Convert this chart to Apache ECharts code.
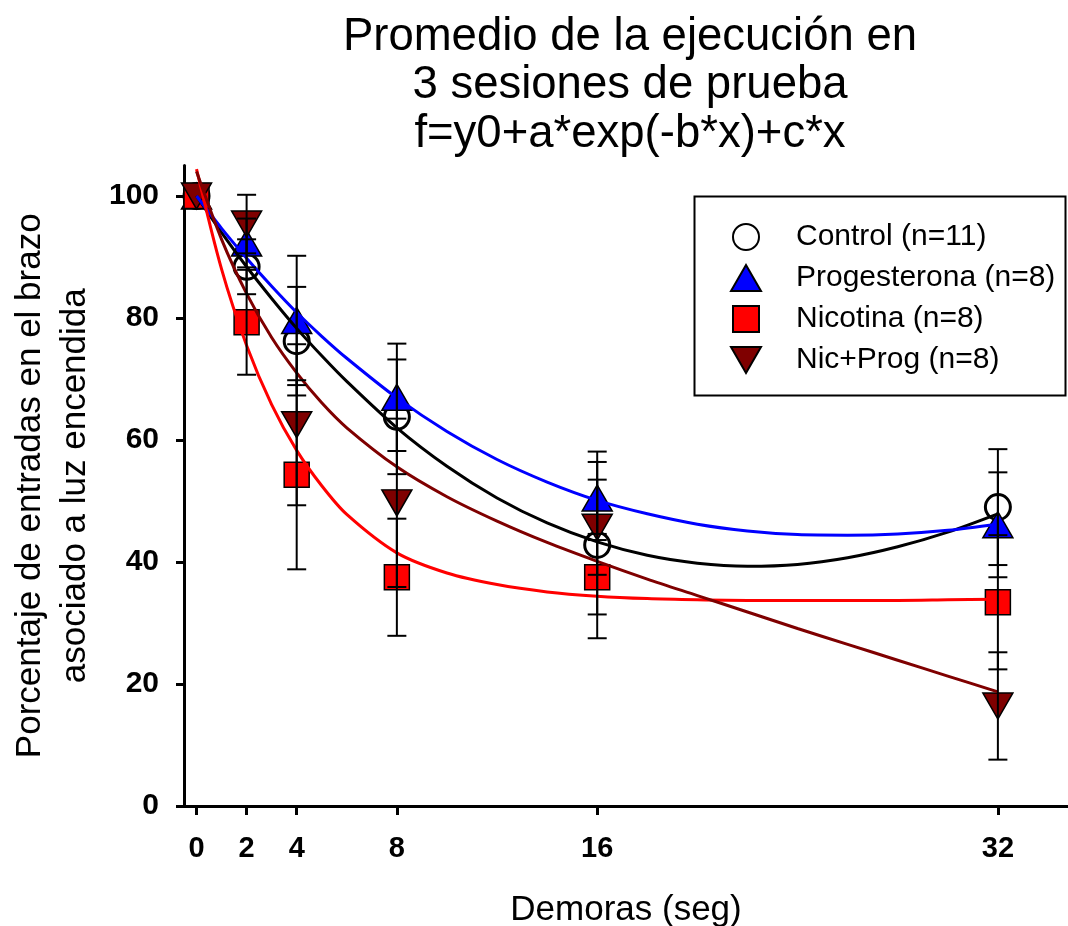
<!DOCTYPE html>
<html>
<head>
<meta charset="utf-8">
<script src="https://cdn.jsdelivr.net/npm/echarts@6/dist/echarts.min.js"></script>
<style>
html,body{margin:0;padding:0;background:#fff;}
#chart{width:1068px;height:926px;}
</style>
</head>
<body>
<div id="chart"></div>
<script>
// ---- data ----
const delays = [0, 2, 4, 8, 16, 32];
const xTicks = [0, 2, 4, 8, 16, 32];
const yTicks = [0, 20, 40, 60, 80, 100];

const seriesNames = ['Control (n=11)', 'Progesterona (n=8)', 'Nicotina (n=8)', 'Nic+Prog (n=8)'];

const controlMean = [100, 88.4, 76.2, 63.8, 42.8, 49.0];
const controlErr  = [0, 4.5, 8.9, 9.4, 15.3, 9.5];
const progMean    = [100, 92.3, 79.6, 67.0, 50.5, 46.1];
const progErr     = [0, 4.0, 10.6, 8.8, 5.9, 8.6];
const nicMean     = [100, 79.3, 54.3, 37.5, 37.5, 33.4];
const nicErr      = [0, 8.6, 15.5, 9.6, 6.1, 11.0];
const npMean      = [100, 95.4, 62.5, 49.7, 45.7, 16.4];
const npErr       = [0, 4.8, 13.2, 13.8, 7.8, 8.8];

// fitted curves f=y0+a*exp(-b*x)+c*x
const curveX     = [0, 1, 2, 3, 4, 5, 6, 8, 10, 12, 14, 16, 18, 20, 22, 24, 26, 28, 30, 32];
const controlFit = [100, 94.0, 88.4, 83.2, 78.3, 73.8, 69.6, 62.0, 55.7, 50.5, 46.4, 43.3, 41.1, 39.8, 39.3, 39.6, 40.7, 42.5, 44.9, 47.9];
const progFit    = [100, 94.7, 89.8, 85.2, 80.9, 77.0, 73.4, 66.9, 61.4, 56.8, 53.1, 50.1, 47.9, 46.2, 45.1, 44.5, 44.4, 44.6, 45.2, 46.2];
const nicFit     = [104.4, 88.0, 75.5, 65.8, 58.3, 52.5, 47.8, 41.5, 38.2, 36.3, 35.1, 34.4, 34.0, 33.8, 33.7, 33.7, 33.7, 33.7, 33.8, 33.9];
const npFit      = [104.0, 92.9, 84.0, 76.8, 71.0, 66.1, 62.0, 55.6, 50.7, 46.7, 43.2, 40.1, 37.2, 34.5, 31.8, 29.1, 26.5, 23.9, 21.3, 18.7];

// ---- styling ----
const FONT = 'Liberation Sans, Arial, Helvetica, sans-serif';
const colors = ['#000000', '#0000ff', '#ff0000', '#7f0000'];
const fills  = ['rgba(255,255,255,0)', '#0000ff', '#ff0000', '#7f0000'];
const symbols = ['circle', 'path://M5,0L10,8.66L0,8.66Z', 'path://M0,0H10V10H0Z', 'path://M0,0L10,0L5,8.66Z'];
const symbolSizes = [25, [30, 26], 25, [30, 26]];
const means = [controlMean, progMean, nicMean, npMean];
const errs = [controlErr, progErr, nicErr, npErr];
const fits = [controlFit, progFit, nicFit, npFit];

function zip(xs, ys) { return xs.map((x, i) => [x, ys[i]]); }

const series = [];
// curves
fits.forEach((f, i) => {
  series.push({
    name: 'fit' + i,
    type: 'line',
    data: zip(curveX, f),
    smooth: 0.3,
    showSymbol: false,
    symbol: 'none',
    lineStyle: { color: colors[i], width: 3 },
    z: 3,
    silent: true
  });
});
// markers
means.forEach((m, i) => {
  series.push({
    name: seriesNames[i],
    type: 'scatter',
    data: zip(delays, m),
    symbol: symbols[i],
    symbolSize: symbolSizes[i],
    symbolKeepAspect: false,
    itemStyle: {
      color: fills[i],
      opacity: 1,
      borderColor: '#000',
      borderWidth: i === 0 ? 3 : 1.5
    },
    z: 2
  });
});
// error bars
means.forEach((m, i) => {
  series.push({
    name: 'err' + i,
    type: 'custom',
    data: delays.map((x, k) => [x, m[k], errs[i][k]]),
    encode: { x: 0, y: 1 },
    z: 4,
    silent: true,
    renderItem: function (params, api) {
      const x = api.value(0), y = api.value(1), e = api.value(2);
      if (!e) return null;
      const t = api.coord([x, y + e]);
      const b = api.coord([x, y - e]);
      const hw = 9.5;
      const st = { stroke: '#000', lineWidth: 2 };
      return {
        type: 'group',
        children: [
          { type: 'line', shape: { x1: t[0], y1: t[1], x2: b[0], y2: b[1] }, style: st },
          { type: 'line', shape: { x1: t[0] - hw, y1: t[1], x2: t[0] + hw, y2: t[1] }, style: st },
          { type: 'line', shape: { x1: b[0] - hw, y1: b[1], x2: b[0] + hw, y2: b[1] }, style: st }
        ]
      };
    }
  });
});

const chart = echarts.init(document.getElementById('chart'), null, { renderer: 'canvas' });
chart.setOption({
  animation: false,
  backgroundColor: '#ffffff',
  title: {
    text: 'Promedio de la ejecución en\n3 sesiones de prueba\nf=y0+a*exp(-b*x)+c*x',
    left: 625,
    top: 8,
    textAlign: 'center',
    textStyle: { fontFamily: FONT, fontSize: 45.5, fontWeight: 'normal', color: '#000', lineHeight: 48.5 }
  },
  graphic: [{
    type: 'rect',
    left: 692, top: 194,
    shape: { width: 371, height: 199 },
    style: { fill: 'none', stroke: '#000', lineWidth: 2 },
    z: 10
  }],
  legend: {
    orient: 'vertical',
    left: 730,
    top: 222,
    padding: 0,
    itemWidth: 30,
    itemHeight: 26,
    itemGap: 11,
    selectedMode: false,
    symbolKeepAspect: true,
    textStyle: { fontFamily: FONT, fontSize: 30, color: '#000', lineHeight: 30, padding: [0, 0, 0, 30] },
    data: seriesNames.map((n, i) => ({ name: n, icon: symbols[i] }))
  },
  grid: { left: 184, right: 0, top: 165.5, bottom: 120, containLabel: false, outerBoundsMode: 'none' },
  xAxis: {
    type: 'value',
    min: -0.5,
    max: 34.8,
    name: 'Demoras (seg)',
    nameLocation: 'middle',
    nameGap: 87,
    nameTextStyle: { fontFamily: FONT, fontSize: 35, color: '#000' },
    splitLine: { show: false },
    axisLine: { onZero: false, lineStyle: { color: '#000', width: 3 } },
    axisTick: { show: true, length: 9, lineStyle: { color: '#000', width: 3 }, customValues: xTicks },
    axisLabel: { customValues: xTicks, margin: 28, fontFamily: FONT, fontSize: 29, fontWeight: 'bold', color: '#000' }
  },
  yAxis: {
    type: 'value',
    min: 0,
    max: 105,
    name: 'Porcentaje de entradas en el brazo\nasociado a luz encendida',
    nameLocation: 'middle',
    nameRotate: 90,
    nameGap: 74,
    nameTextStyle: { fontFamily: FONT, fontSize: 35, color: '#000', lineHeight: 45 },
    splitLine: { show: false },
    axisLine: { show: true, onZero: false, lineStyle: { color: '#000', width: 3 } },
    axisTick: { show: true, length: 8, lineStyle: { color: '#000', width: 3 }, customValues: yTicks },
    axisLabel: { customValues: yTicks, margin: 25, fontFamily: FONT, fontSize: 30, fontWeight: 'bold', color: '#000' }
  },
  series: series
});
</script>
</body>
</html>
